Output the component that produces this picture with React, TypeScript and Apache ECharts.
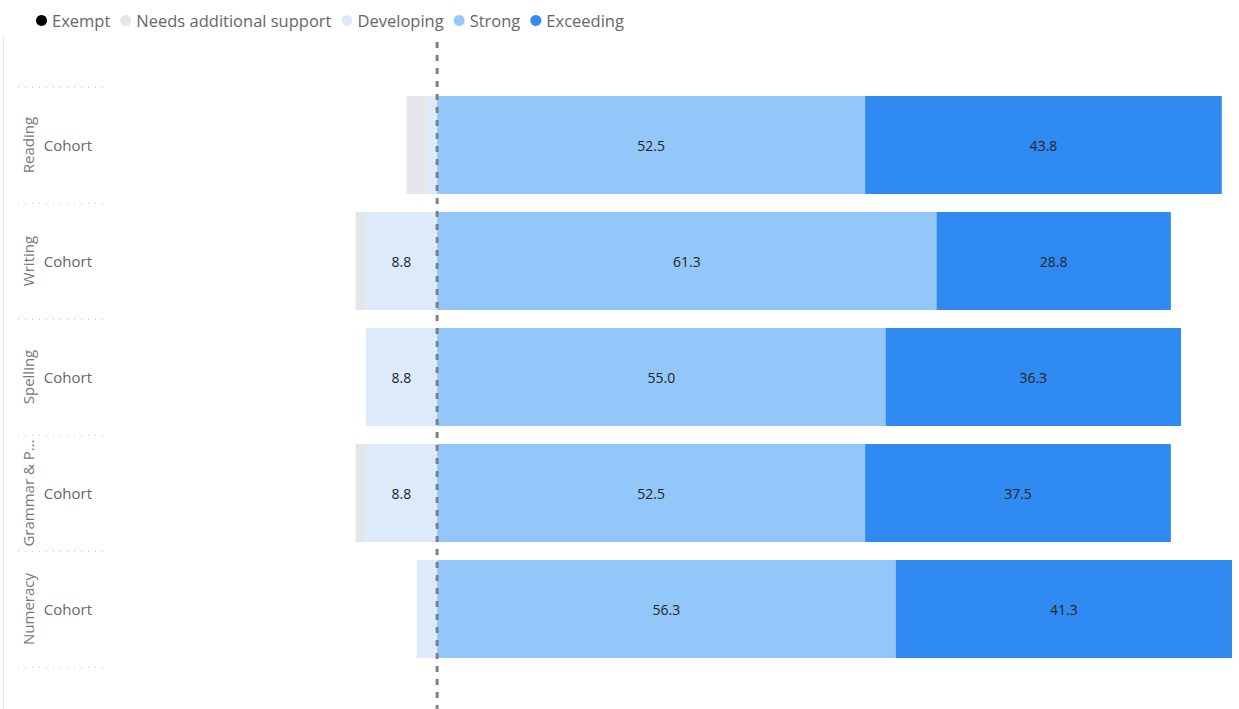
import React, { useEffect, useRef } from "react";
import * as echarts from "echarts";

const subjects = ["Reading", "Writing", "Spelling", "Grammar & Punctuation", "Numeracy"];
const groups = ["Cohort", "Cohort", "Cohort", "Cohort", "Cohort"];
const legendOrder = ["Exempt", "Needs additional support", "Developing", "Strong", "Exceeding"];

// percentages (negative-side categories are stored as positive shares)
const exempt = [0, 0, 0, 0, 0];
const needsSupport = [2.5, 1.25, 0, 1.25, 0];
const developing = [1.25, 8.75, 8.75, 8.75, 2.5];
const strong = [52.5, 61.25, 55.0, 52.5, 56.25];
const exceeding = [43.75, 28.75, 36.25, 37.5, 41.25];

const colors: Record<string, string> = {
  Exempt: "#000000",
  "Needs additional support": "#E5E6EA",
  Developing: "#DCEAFC",
  Strong: "#93C7F9",
  Exceeding: "#2F8AF1",
};

const FONT = "'Segoe UI', 'Open Sans', sans-serif";

export default function App() {
  const ref = useRef<HTMLDivElement>(null);

  useEffect(() => {
    if (!ref.current) return;
    const chart = echarts.init(ref.current, undefined, { renderer: "svg" });

    const label = {
      show: true,
      position: "inside",
      color: "#252423",
      fontSize: 14,
      fontFamily: FONT,
      formatter: (p: any) => {
        const v = Math.abs(p.value as number);
        return v >= 4 ? v.toFixed(1) : "";
      },
    };

    const mk = (name: string, values: number[], negative: boolean) => ({
      name,
      type: "bar",
      stack: "total",
      yAxisIndex: 0,
      barWidth: 98,
      data: values.map((v) => (negative ? -v : v)),
      itemStyle: { color: colors[name] },
      label,
      emphasis: { disabled: true },
    });

    chart.setOption({
      animation: false,
      textStyle: { fontFamily: FONT },
      legend: {
        data: legendOrder,
        top: 7,
        left: 31,
        icon: "circle",
        itemWidth: 11,
        itemHeight: 11,
        itemGap: 10,
        textStyle: { fontSize: 16.5, color: "#666666", fontFamily: FONT },
      },
      grid: { left: 111, right: 7, top: 87, bottom: 42, containLabel: false },
      xAxis: {
        type: "value",
        min: -40,
        max: 97.5,
        show: false,
      },
      yAxis: [
        {
          type: "category",
          data: subjects,
          inverse: true,
          position: "left",
          offset: 8,
          axisLine: { show: false, onZero: false },
          axisTick: {
            show: true,
            length: 88,
            lineStyle: { color: "#c8c8c8", type: [1, 6], width: 1 },
          },
          splitLine: { show: false },
          axisLabel: {
            interval: 0,
            margin: 11,
            fontSize: 15,
            color: "#666666",
            fontFamily: FONT,
            formatter: (_v: string, i: number) => groups[i],
          },
        },
        {
          type: "category",
          data: subjects,
          inverse: true,
          position: "left",
          offset: 8,
          axisLine: { show: false, onZero: false },
          axisTick: { show: false },
          splitLine: { show: false },
          axisLabel: {
            interval: 0,
            hideOverlap: false,
            rotate: 90,
            margin: 68,
            fontSize: 15,
            color: "#777777",
            fontFamily: FONT,
            width: 112,
            overflow: "truncate",
            ellipsis: "...",
          },
        },
      ],
      series: [
        mk("Developing", developing, true),
        mk("Needs additional support", needsSupport, true),
        mk("Exempt", exempt, true),
        mk("Strong", strong, false),
        mk("Exceeding", exceeding, false),
      ],
    });

    const zeroX = chart.convertToPixel({ xAxisIndex: 0 }, 0) as number;
    chart.setOption({
      graphic: [
        {
          type: "line",
          z: 1,
          shape: { x1: 3.5, y1: 36, x2: 3.5, y2: 709 },
          style: { stroke: "#e8e8e8", lineWidth: 1 },
          silent: true,
        },
        {
          type: "line",
          z: 100,
          shape: { x1: zeroX, y1: 42, x2: zeroX, y2: 709 },
          style: { stroke: "#808080", lineWidth: 3, lineDash: [6, 7] },
          silent: true,
        },
      ],
    });

    return () => chart.dispose();
  }, []);

  return (
    <div
      ref={ref}
      style={{ position: "fixed", left: 0, top: 0, width: 1239, height: 709, background: "#ffffff" }}
    />
  );
}
